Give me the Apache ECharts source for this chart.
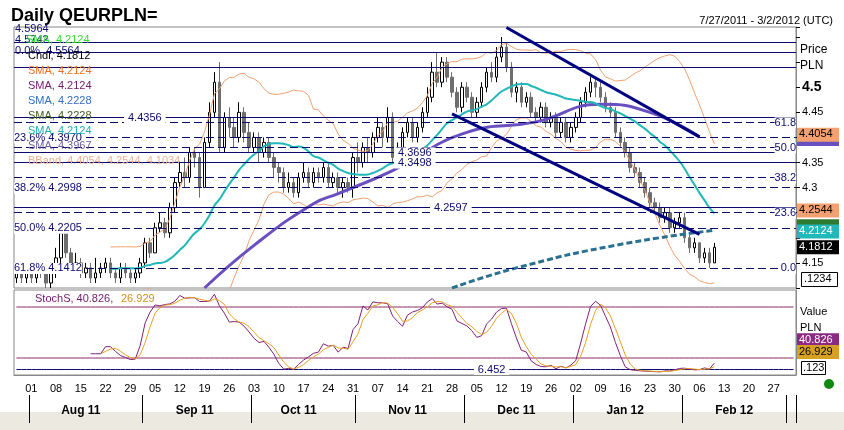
<!DOCTYPE html>
<html><head><meta charset="utf-8">
<script src="https://cdn.jsdelivr.net/npm/echarts@6/dist/echarts.min.js"></script>
<style>html,body{margin:0;padding:0;background:#fff}#c{width:844px;height:430px}</style>
</head><body><div id="c"></div>
<script>
// trading days with data (Jul 27 2011 .. Feb 9 2012)
const closes = [4.13,4.12,4.13,
4.12,4.14,4.13,4.11,4.13, 4.16,4.21,4.17,4.14,4.15, 4.13,4.14,4.12,4.13,4.14, 4.15,4.13,4.12,4.14,4.13,
4.12,4.13,4.15,4.19,4.17, 4.22,4.23,4.21,4.26,4.31, 4.33,4.32,4.37,4.36,4.30, 4.39,4.45,4.51,4.38,4.44,
4.42,4.40,4.45,4.41,4.38, 4.40,4.37,4.39,4.36,4.34, 4.33,4.30,4.31,4.29,4.32, 4.33,4.31,4.33,4.32,4.34,
4.31,4.32,4.30,4.31,4.30, 4.36,4.35,4.38,4.37,4.40, 4.42,4.40,4.44,4.36,4.38, 4.41,4.43,4.40,4.42,4.45,
4.48,4.53,4.51,4.55,4.52, 4.49,4.46,4.50,4.48,4.45, 4.47,4.50,4.53,4.52,4.56, 4.58,4.54,4.49,4.50,4.47,
4.48,4.45,4.44,4.46,4.43, 4.44,4.41,4.43,4.40,4.42, 4.44,4.47,4.49,4.51,4.50, 4.48,4.46,4.45,4.41,4.39,
4.37,4.34,4.33,4.31,4.29, 4.27,4.26,4.24,4.25,4.22, 4.23,4.24,4.20,4.18,4.19, 4.16,4.17,4.15,4.1812];
const highs = [4.14,4.14,4.14,
4.15,4.15,4.15,4.14,4.15, 4.18,4.22,4.22,4.18,4.17, 4.16,4.15,4.15,4.16,4.15, 4.16,4.16,4.14,4.15,4.15,
4.14,4.14,4.16,4.20,4.20, 4.23,4.25,4.24,4.27,4.32, 4.35,4.36,4.38,4.38,4.37, 4.40,4.47,4.53,4.55,4.45,
4.46,4.44,4.47,4.46,4.43, 4.41,4.41,4.40,4.40,4.37, 4.35,4.34,4.33,4.32,4.33, 4.35,4.34,4.34,4.34,4.35,
4.35,4.33,4.33,4.32,4.32, 4.37,4.39,4.39,4.40,4.41, 4.44,4.43,4.46,4.45,4.39, 4.42,4.44,4.44,4.43,4.46,
4.50,4.55,4.57,4.56,4.56, 4.53,4.50,4.51,4.51,4.49, 4.48,4.51,4.54,4.55,4.58, 4.60,4.59,4.55,4.51,4.51,
4.49,4.49,4.46,4.47,4.47, 4.45,4.45,4.44,4.44,4.43, 4.45,4.48,4.50,4.52,4.52, 4.51,4.49,4.47,4.46,4.42,
4.40,4.38,4.35,4.34,4.32, 4.30,4.28,4.27,4.26,4.26, 4.24,4.25,4.25,4.21,4.20, 4.19,4.18,4.18,4.19];
const lows = [4.11,4.11,4.11,
4.11,4.11,4.12,4.10,4.10, 4.12,4.15,4.16,4.13,4.13, 4.12,4.12,4.11,4.11,4.12, 4.13,4.12,4.11,4.11,4.12,
4.11,4.11,4.12,4.14,4.16, 4.17,4.21,4.20,4.20,4.25, 4.30,4.30,4.31,4.34,4.28, 4.30,4.38,4.44,4.37,4.37,
4.40,4.38,4.39,4.39,4.37, 4.37,4.35,4.36,4.35,4.32, 4.31,4.29,4.29,4.28,4.28, 4.31,4.30,4.30,4.31,4.31,
4.30,4.30,4.29,4.28,4.29, 4.28,4.33,4.34,4.35,4.36, 4.39,4.38,4.39,4.35,4.35, 4.37,4.40,4.39,4.39,4.41,
4.44,4.47,4.50,4.50,4.51, 4.48,4.45,4.45,4.47,4.44, 4.44,4.46,4.49,4.51,4.51, 4.55,4.53,4.48,4.47,4.46,
4.46,4.44,4.43,4.43,4.42, 4.42,4.40,4.40,4.39,4.39, 4.41,4.43,4.46,4.48,4.48, 4.47,4.45,4.44,4.40,4.38,
4.36,4.33,4.32,4.30,4.28, 4.26,4.25,4.23,4.23,4.21, 4.21,4.22,4.19,4.17,4.17, 4.15,4.15,4.14,4.15];
// long SMA (purple)
const longSmaDates = ['2011-09-19','2011-10-03','2011-10-19','2011-10-26','2011-11-10','2011-12-01','2011-12-21','2012-01-09','2012-01-23','2012-02-06'];
const longSmaVals = [4.10,4.185,4.268,4.288,4.334,4.41,4.431,4.466,4.45,4.401];
// 200-day SMA (dashed teal)
const sma200Dates = ['2011-11-28','2011-12-15','2012-01-12','2012-02-09'];
const sma200Vals = [4.10,4.14,4.185,4.215];
const stochLevels = [80,20];
const stochMin = 6.452;
const hLinesSolid = [4.595,4.573,4.542,4.4356,4.3696,4.3498,4.2597];
const hLabelDist = {'4.4356':110,'4.3696':380,'4.3498':380,'4.2597':416};
const fibLeft = [[4.397,'23.6%'],[4.2998,'38.2%'],[4.2205,'50.0%'],[4.1412,'61.8%']];
const fibRight = [[4.43,'61.8'],[4.375,'50.0'],[4.32,'38.2'],[4.2544,'23.6'],[4.145,'0.0']];
const trendLines = [[['2011-12-13',4.619],['2012-02-06',4.401]],[['2011-11-28',4.447],['2012-02-06',4.207]]];

const cats=[];
for(let d=new Date(Date.UTC(2011,6,27)); d<=new Date(Date.UTC(2012,2,2)); d.setUTCDate(d.getUTCDate()+1)){
  const w=d.getUTCDay(); if(w===0||w===6) continue;
  cats.push(d.toISOString().slice(0,10));
}
const ohlc=closes.map((c,i)=>[i?closes[i-1]:4.12,c,lows[i],highs[i]]);
function sma(arr,p){return arr.map((_,i)=>i<p-1?null:+(arr.slice(i-p+1,i+1).reduce((a,b)=>a+b,0)/p).toFixed(4));}
const s20=sma(closes,20);
const bbU=[],bbL=[];
closes.forEach((_,i)=>{ if(i<19){bbU.push(null);bbL.push(null);return;}
  const w=closes.slice(i-19,i+1),m=s20[i];const sd=Math.sqrt(w.reduce((a,b)=>a+(b-m)*(b-m),0)/20);
  bbU.push(+(m+2*sd).toFixed(4));bbL.push(+(m-2*sd).toFixed(4));});
const rawK=closes.map((c,i)=>{ if(i<13) return null; const h=Math.max(...highs.slice(i-13,i+1)),l=Math.min(...lows.slice(i-13,i+1)); return 100*(c-l)/(h-l);});
function smaN(a,p){return a.map((_,i)=>{const w=a.slice(Math.max(0,i-p+1),i+1).filter(v=>v!=null);return w.length<p?null:w.reduce((x,y)=>x+y,0)/p;});}
const kS=smaN(rawK,3), dS=smaN(kS,3);
const longSma=cats.map(c=>{const j=longSmaDates.indexOf(c);return j<0?null:longSmaVals[j];});
const s200=cats.map(c=>{const j=sma200Dates.indexOf(c);return j<0?null:sma200Vals[j];});

const navy='#0a0a6e';
const monthMid={'2011-08-15':'Aug 11','2011-09-15':'Sep 11','2011-10-14':'Oct 11','2011-11-15':'Nov 11','2011-12-15':'Dec 11','2012-01-16':'Jan 12','2012-02-15':'Feb 12'};
const chart=echarts.init(document.getElementById('c'));
const mlSolid=hLinesSolid.map(v=>({yAxis:v,label:{show:!!hLabelDist[v],position:'insideStartTop',formatter:String(v),color:navy,distance:[hLabelDist[v]||0,-6],backgroundColor:'#fff',padding:[0,4]}}));
const mlFib=fibLeft.map(([v,t])=>({yAxis:v,lineStyle:{type:[8,4]},label:{show:true,position:'insideStartTop',formatter:t+' '+v.toFixed(4),color:navy,distance:[0,-6],backgroundColor:'#fff'}}));
const mlFibR=fibRight.map(([v,t])=>({yAxis:v,lineStyle:{type:[8,4]},label:{show:true,position:'insideEndTop',formatter:t,color:navy,distance:[0,-6],backgroundColor:'#fff'}}));
const levelSeries=stochLevels.map(v=>({type:'line',xAxisIndex:1,yAxisIndex:1,data:cats.map(()=>v),symbol:'none',silent:true,z:1,lineStyle:{color:'#8a2a6a',width:1}}));
chart.setOption({
  animation:false,
  textStyle:{fontFamily:'Arial, Liberation Sans, sans-serif'},
  title:[{text:'Daily QEURPLN=',left:6,top:2,textStyle:{fontSize:18,fontWeight:'bold',color:'#000'}},
         {text:'7/27/2011 - 3/2/2012 (UTC)',right:6,top:10,textStyle:{fontSize:11,fontWeight:'normal',color:'#000'}}],
  grid:[{left:14,right:48,top:27,height:261,show:true,borderColor:'#888',borderWidth:1},
        {left:14,right:48,top:290,height:85,show:true,borderColor:'#888',borderWidth:1}],
  xAxis:[{type:'category',data:cats,gridIndex:0,boundaryGap:true,axisLine:{show:false},axisTick:{show:false},axisLabel:{show:false}},
    {type:'category',data:cats,gridIndex:1,boundaryGap:true,axisLine:{lineStyle:{color:'#888'}},
     axisTick:{show:false},
     axisLabel:{interval:(i,v)=>new Date(v+'T00:00:00Z').getUTCDay()===1,formatter:v=>v.slice(8),fontSize:11,color:'#000',margin:8}},
    {type:'category',data:cats,gridIndex:1,position:'bottom',offset:20,boundaryGap:true,axisLine:{show:false},
     axisTick:{show:true,length:28,inside:false,lineStyle:{color:'#000'},interval:(i,v)=>i>0&&cats[i-1].slice(5,7)!==v.slice(5,7)},
     axisLabel:{interval:(i,v)=>!!monthMid[v],formatter:v=>monthMid[v]||'',fontSize:12,fontWeight:'bold',color:'#000',margin:10}}],
  yAxis:[{type:'value',gridIndex:0,position:'right',min:4.1,max:4.62,interval:0.05,splitLine:{show:false},
     axisLine:{show:true,lineStyle:{color:'#888'}},axisTick:{show:true,length:4,lineStyle:{color:'#000'}},
     axisLabel:{fontSize:11,color:'#000',margin:6,formatter:v=>{const s=+v.toFixed(2);return [4.15,4.3,4.35,4.45].includes(s)?String(s):(s===4.5?'{b|4.5}':'');},rich:{b:{fontSize:14,fontWeight:'bold'}}}},
    {type:'value',gridIndex:1,position:'right',min:0,max:100,splitLine:{show:false},axisLine:{show:true,lineStyle:{color:'#888'}},axisTick:{show:false},axisLabel:{show:false}}],
  series:[
    {type:'line',xAxisIndex:0,yAxisIndex:0,data:[],silent:true,markLine:{symbol:'none',silent:true,lineStyle:{color:navy,width:1,type:'solid'},label:{fontSize:11},
      data:[...mlSolid,...mlFib,...mlFibR]}},
    {type:'line',data:bbU,symbol:'none',lineStyle:{color:'#f0a070',width:1},silent:true},
    {type:'line',data:bbL,symbol:'none',lineStyle:{color:'#f0a070',width:1},silent:true},
    {type:'line',data:longSma,connectNulls:true,smooth:true,symbol:'none',lineStyle:{color:'#6a4fc0',width:3}},
    {type:'line',data:s200,connectNulls:true,smooth:true,symbol:'none',lineStyle:{color:'#2a7090',width:3,type:[6,3]}},
    {type:'line',data:s20,symbol:'none',smooth:true,lineStyle:{color:'#20b8b8',width:2}},
    {type:'candlestick',data:ohlc,barWidth:3,itemStyle:{color:'#fff',borderColor:'#000',color0:'#6e6e6e',borderColor0:'#6e6e6e',borderWidth:1}},
    {type:'line',data:[],markLine:{symbol:'none',silent:true,lineStyle:{color:'#000080',width:3,type:'solid'},label:{show:false},
      data:trendLines.map(t=>[{coord:t[0]},{coord:t[1]}])}},
    ...levelSeries,
    {type:'line',xAxisIndex:1,yAxisIndex:1,data:cats.map(()=>stochMin),symbol:'none',silent:true,z:1,lineStyle:{color:navy,width:1},
      endLabel:{show:false},markPoint:{symbol:'rect',symbolSize:[1,1],data:[{coord:['2011-12-08',stochMin]}],label:{show:true,formatter:'6.452',color:navy,backgroundColor:'#fff',padding:[0,4],fontSize:11,position:'inside'}}},
    {type:'line',xAxisIndex:1,yAxisIndex:1,data:kS,symbol:'none',lineStyle:{color:'#80207a',width:1}},
    {type:'line',xAxisIndex:1,yAxisIndex:1,data:dS,symbol:'none',lineStyle:{color:'#e8a020',width:1}}
  ]
});
const L=[['4.5964',29,navy],['4.5742',40,navy],['SMA, 4.2124',40,'#33dd33',26],['0.0%  4.5564',51,navy],['Cndl, 4.1812',56,'#000',28],
 ['SMA, 4.2124',71,'#f07020',28],['SMA, 4.2124',86,'#701a6a',28],['SMA, 4.2228',101,'#3070c0',28],['SMA, 4.2228',116,'#406020',28],
 ['SMA, 4.2124',131,'#20b0b0',28],['SMA, 4.3967',146,'#7060a0',28],['BBand, 4.4054, 4.2544, 4.1034',161,'#f0b090',28]];
const g=L.map(([t,y,c,x])=>({type:'text',left:x||15,top:y-6,z:50,style:{text:t,fill:c,font:'11px Arial'}}));
g.push({type:'text',left:35,top:293,z:50,style:{text:'StochS, 40.826, ',fill:'#701a6a',font:'11px Arial'}});
g.push({type:'text',left:121,top:293,z:50,style:{text:'26.929',fill:'#d09020',font:'11px Arial'}});
const tag=(v,ax,bg,fg,txt,bold)=>{const y=chart.convertToPixel({yAxisIndex:ax},v);
  g.push({type:'rect',left:797,top:y-7,shape:{width:42,height:14},style:{fill:bg},z:60});
  g.push({type:'text',left:799,top:y-6,z:61,style:{text:txt,fill:fg,font:(bold?'bold ':'')+'11px Arial'}});};
tag(4.3967,0,'#6a4fc0','#6a4fc0','',0);
tag(4.4054,0,'#f4a070','#000','4.4054');
tag(4.2544,0,'#f4a070','#000','4.2544');
tag(4.2228,0,'#2e7a30','#2e7a30','');
tag(4.2124,0,'#20b8b8','#fff','4.2124');
tag(4.1812,0,'#000','#fff','4.1812');
tag(40.826,1,'#8a2a80','#fff','40.826');
tag(26.929,1,'#d8a020','#000','26.929');
g.push({type:'text',left:800,top:44,style:{text:'Price',font:'12px Arial',fill:'#000'}});
g.push({type:'text',left:800,top:60,style:{text:'PLN',font:'12px Arial',fill:'#000'}});
g.push({type:'text',left:800,top:306,style:{text:'Value',font:'11px Arial',fill:'#000'}});
g.push({type:'text',left:800,top:322,style:{text:'PLN',font:'11px Arial',fill:'#000'}});
g.push({type:'rect',left:801,top:272,shape:{width:36,height:14},style:{fill:'#fff',stroke:'#000'}});
g.push({type:'text',left:804,top:273,style:{text:'.1234',font:'11px Arial',fill:'#000'}});
g.push({type:'rect',left:801,top:361,shape:{width:24,height:13},style:{fill:'#fff',stroke:'#000'}});
g.push({type:'text',left:803,top:362,style:{text:'.123',font:'11px Arial',fill:'#000'}});
g.push({type:'circle',shape:{cx:829,cy:384,r:5},style:{fill:'#118811'}});
g.push({type:'rect',left:0,top:412,shape:{width:844,height:18},style:{fill:'#ece9e0'},z:-1});
chart.setOption({graphic:g});
</script></body></html>
